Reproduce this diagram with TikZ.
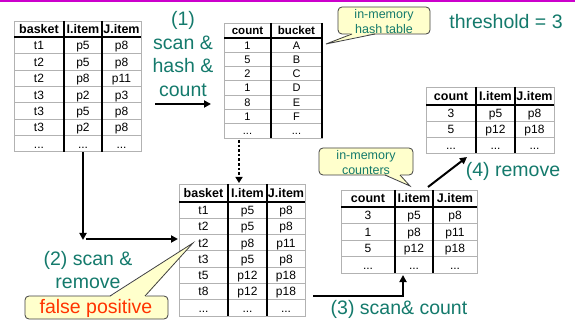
\documentclass[tikz,border=0pt]{standalone}
\usepackage{fontspec}
\setmainfont{Liberation Sans}
\usetikzlibrary{arrows.meta,fit}
\definecolor{tealtxt}{RGB}{20,122,108}
\definecolor{callfill}{RGB}{255,255,204}
\definecolor{fpred}{RGB}{255,51,0}
\definecolor{gridgray}{RGB}{178,178,178}
\definecolor{topmag}{RGB}{204,0,204}
\newcommand{\mydots}{...}
\tikzset{
 cell/.style={inner sep=0pt, text height=8.6pt, text depth=0pt, font=\fontsize{12}{12}\selectfont},
 hcell/.style={inner sep=0pt, text height=9pt, text depth=0pt, font=\fontsize{12.5}{12.5}\selectfont\bfseries},
 rowline/.style={draw=gridgray, line width=0.9pt},
 frame/.style={draw=gridgray, line width=0.9pt},
 headline/.style={draw=black, line width=2pt},
 colline/.style={draw=black, line width=1.3pt},
 steptxt/.style={text=tealtxt, font=\fontsize{19.5}{23.5}\selectfont, align=center, inner sep=0pt},
 arr/.style={draw=black, line width=2pt, -{Triangle[length=7pt,width=7pt]}},
 callbox/.style={draw=black!75, fill=callfill, rounded corners=4pt, line width=0.8pt, inner sep=0pt},
 callside/.style={draw=black!75, line width=0.8pt},
 calltxt/.style={text=tealtxt, font=\fontsize{12.5}{15}\selectfont, align=center, inner sep=0pt},
}
% #1 name, #2-#5 column borders, #6 top, #7 header bottom, #8 row height, #9 rows
\newcommand{\tabthree}[9]{%
  \foreach \ca/\cb/\cc [count=\rr from 0] in {#9}{%
    \ifnum\rr=0
      \node[hcell] (#1-0-1) at ({(#2+#3)/2},{(#6+#7)/2}) {\ca};
      \node[hcell] (#1-0-2) at ({(#3+#4)/2},{(#6+#7)/2}) {\cb};
      \node[hcell] (#1-0-3) at ({(#4+#5)/2},{(#6+#7)/2}) {\cc};
    \else
      \node[cell] (#1-\rr-1) at ({(#2+#3)/2},{#7+(\rr-0.5)*#8}) {\ca};
      \node[cell] (#1-\rr-2) at ({(#3+#4)/2},{#7+(\rr-0.5)*#8}) {\cb};
      \node[cell] (#1-\rr-3) at ({(#4+#5)/2},{#7+(\rr-0.5)*#8}) {\cc};
      \draw[rowline] (#2,{#7+\rr*#8}) -- (#5,{#7+\rr*#8});
    \fi
    \xdef\lastrow{\rr}%
  }%
  \coordinate (#1-nw) at (#2,#6);
  \coordinate (#1-se) at (#5,{#7+\lastrow*#8});
  \draw[frame] (#1-nw) rectangle (#1-se);
  \draw[headline] (#2,#7) -- (#5,#7);
  \draw[colline] (#3,#6) -- (#3,{#7+\lastrow*#8});
  \draw[colline] (#4,#6) -- (#4,{#7+\lastrow*#8});
  \node[fit=(#1-nw)(#1-se), inner sep=0pt] (#1) {};
}
% #1 name, #2-#4 column borders, #5 top, #6 header bottom, #7 row height, #8 rows
\newcommand{\tabtwo}[8]{%
  \foreach \ca/\cb [count=\rr from 0] in {#8}{%
    \ifnum\rr=0
      \node[hcell] (#1-0-1) at ({(#2+#3)/2},{(#5+#6)/2}) {\ca};
      \node[hcell] (#1-0-2) at ({(#3+#4)/2},{(#5+#6)/2}) {\cb};
    \else
      \node[cell] (#1-\rr-1) at ({(#2+#3)/2},{#6+(\rr-0.5)*#7}) {\ca};
      \node[cell] (#1-\rr-2) at ({(#3+#4)/2},{#6+(\rr-0.5)*#7}) {\cb};
      \draw[rowline] (#2,{#6+\rr*#7}) -- (#4,{#6+\rr*#7});
    \fi
    \xdef\lastrow{\rr}%
  }%
  \coordinate (#1-nw) at (#2,#5);
  \coordinate (#1-se) at (#4,{#6+\lastrow*#7});
  \draw[frame] (#1-nw) rectangle (#1-se);
  \draw[headline] (#2,#6) -- (#4,#6);
  \draw[colline] (#3,#5) -- (#3,{#6+\lastrow*#7});
  \draw[colline] (#4,#5) -- (#4,{#6+\lastrow*#7});
  \node[fit=(#1-nw)(#1-se), inner sep=0pt] (#1) {};
}
\begin{document}
\begin{tikzpicture}[x=1pt,y=-1pt]
\useasboundingbox (0,0) rectangle (575,320);
\fill[white] (0,0) rectangle (575,320);
\draw[topmag, line width=1.6pt] (0,0.8) -- (575,0.8);

% tables
\tabthree{ta}{14}{64}{102}{141}{21}{37.5}{16.35}{basket/I.item/J.item, t1/p5/p8, t2/p5/p8, t2/p8/p11, t3/p2/p3, t3/p5/p8, t3/p2/p8, \mydots/\mydots/\mydots}
\begin{scope}[cell/.append style={text height=7.9pt, font=\fontsize{11}{11}\selectfont},
              hcell/.append style={text height=8.3pt, font=\fontsize{11.5}{11.5}\selectfont\bfseries}]
\tabtwo{hb}{224}{271}{322}{23}{38}{14.3}{count/bucket, 1/A, 5/B, 2/C, 1/D, 8/E, 1/F, \mydots/\mydots}
\end{scope}
\tabthree{tr}{426}{476}{515}{554}{87}{105}{16}{count/I.item/J.item, 3/p5/p8, 5/p12/p18, \mydots/\mydots/\mydots}
\tabthree{tm}{179}{228}{267}{305}{184}{202}{16.3}{basket/I.item/J.item, t1/p5/p8, t2/p5/p8, t2/p8/p11, t3/p5/p8, t5/p12/p18, t8/p12/p18, \mydots/\mydots/\mydots}
\tabthree{tc}{341}{395}{433}{477}{190}{207}{16.5}{count/I.item/J.item, 3/p5/p8, 1/p8/p11, 5/p12/p18, \mydots/\mydots/\mydots}

% step labels
\node[steptxt] (s1) at (183,54) {(1)\\scan \&\\hash \&\\count};
\node[steptxt] (s2) at (88,270) {(2) scan \&\\remove};
\node[steptxt] (s3) at (399,309) {(3) scan\& count};
\node[steptxt] (s4) at (513,171) {(4) remove};
\node[steptxt] (thr) at (506,22) {threshold = 3};

% arrows
\coordinate (a1s) at (155,104);
\coordinate (a1e) at (211,104);
\draw[arr] (a1s) -- (a1e);
\coordinate (a2m) at (83,240);
\coordinate (a2s) at (86,239);
\coordinate (a2e) at (178,239);
\draw[arr] (ta.south -| a2m) -- (a2m);
\draw[arr] (a2s) -- (a2e);
\coordinate (ddt) at (239,140);
\coordinate (dde) at (239,183);
\draw[black, line width=2.6pt, dotted, -{Triangle[length=6pt,width=7pt]}] (ddt) -- (dde);
\coordinate (a3s) at (313,296);
\coordinate (a3e) at (403,275);
\draw[arr] (a3s) -| (a3e);
\coordinate (a4s) at (428,187);
\coordinate (a4e) at (467,157);
\draw[arr] (a4s) -- (a4e);

% callout: in-memory hash table
\node[callbox, minimum width=92pt, minimum height=27pt] (cbh) at (384,20.5) {};
\fill[callfill] (352,33) -- (326,44) -- (375,33) -- cycle;
\draw[callside] (352,34) -- (326,44) -- (375,34);
\node[calltxt] (cth) at (384,21.5) {in-memory\\hash table};

% callout: in-memory counters
\node[callbox, minimum width=94pt, minimum height=27pt] (cbc) at (366,161.5) {};
\fill[callfill] (385,174) -- (410,186) -- (400,174) -- cycle;
\draw[callside] (385,175) -- (410,186) -- (400,175);
\node[calltxt] (ctc) at (366,162.5) {in-memory\\counters};

% callout: false positive
\node[callbox, minimum width=143pt, minimum height=23pt] (cbf) at (96.5,307.5) {};
\fill[callfill] (110,297) -- (193,243) -- (145,297) -- cycle;
\draw[callside] (110,296) -- (193,243) -- (145,296);
\node[inner sep=0pt, text=fpred, font=\fontsize{19.5}{19.5}\selectfont] (ctf) at (96,308) {false positive};
\end{tikzpicture}
\end{document}
